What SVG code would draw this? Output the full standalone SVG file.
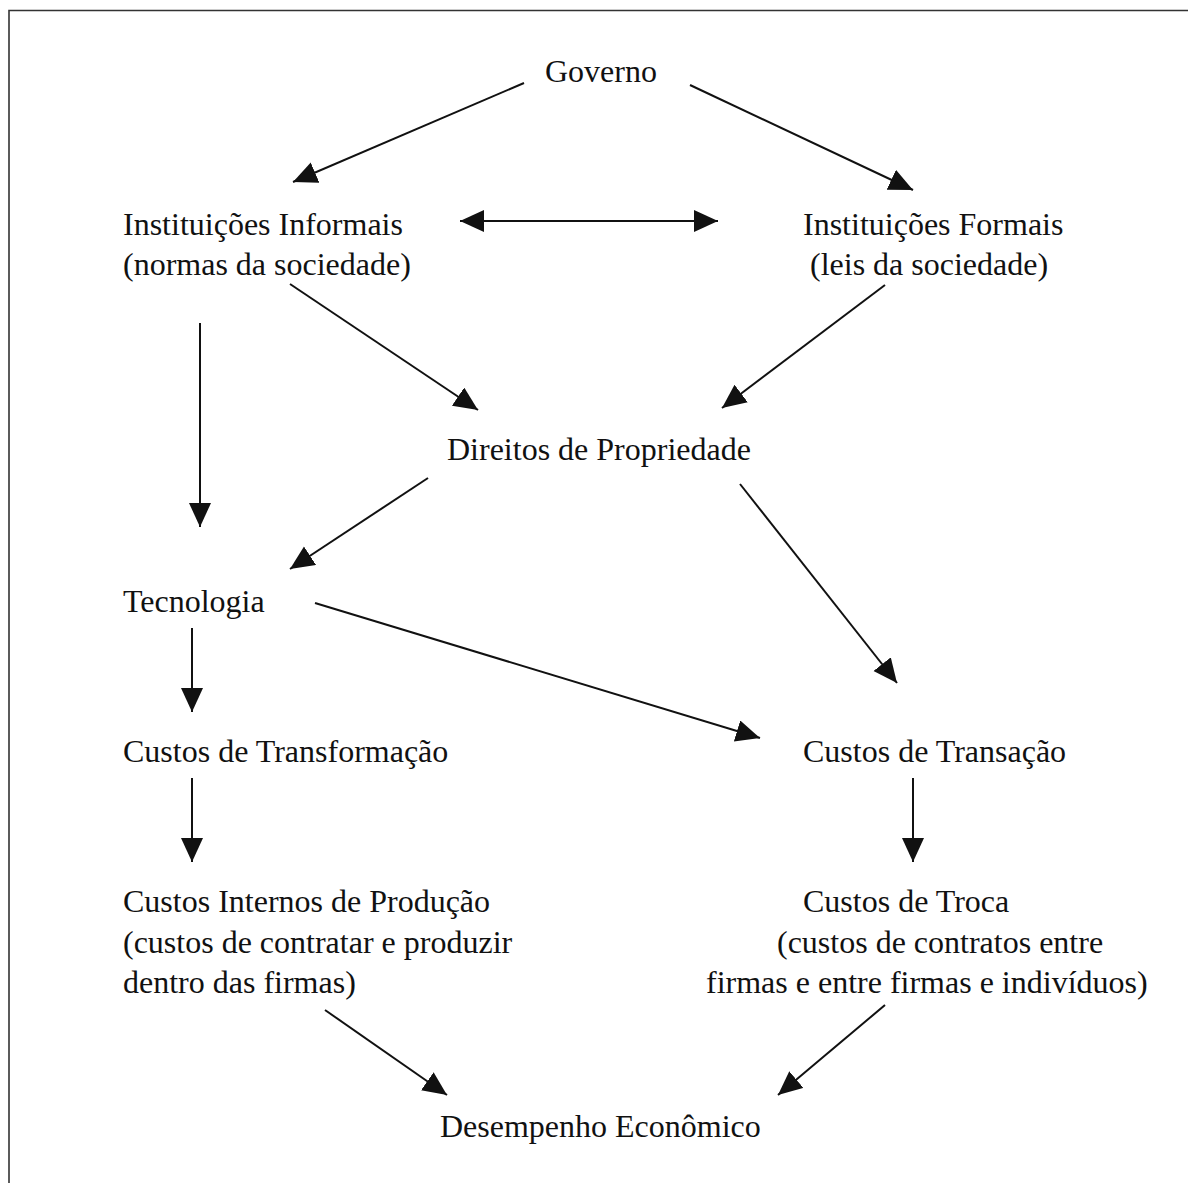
<svg xmlns="http://www.w3.org/2000/svg" width="1188" height="1183" viewBox="0 0 1188 1183">
<defs>
<style>
text{font-family:"Liberation Serif","Times New Roman",serif;font-size:32px;fill:#111}
.c{stroke:#111;stroke-width:2;fill:none}
.frame{stroke:#333;stroke-width:1.6;fill:none}
</style>
<marker id="ah" markerUnits="userSpaceOnUse" markerWidth="26" markerHeight="24" refX="24" refY="11" orient="auto-start-reverse" viewBox="0 0 26 24">
<path d="M0,0 L24,11 L0,22 z" fill="#111"/>
</marker>
</defs>
<rect width="1188" height="1183" fill="#fff"/>
<path class="frame" d="M9,1183 V10.5 H1188"/>
<g id="n-governo"><text x="545" y="82">Governo</text></g>
<g id="n-informais"><text x="123" y="235">Instituições Informais</text><text x="123" y="275">(normas da sociedade)</text></g>
<g id="n-formais"><text x="803" y="235">Instituições Formais</text><text x="810" y="275">(leis da sociedade)</text></g>
<g id="n-direitos"><text x="447" y="460">Direitos de Propriedade</text></g>
<g id="n-tecnologia"><text x="123" y="612">Tecnologia</text></g>
<g id="n-transformacao"><text x="123" y="762">Custos de Transformação</text></g>
<g id="n-transacao"><text x="803" y="762">Custos de Transação</text></g>
<g id="n-internos"><text x="123" y="912">Custos Internos de Produção</text><text x="123" y="953">(custos de contratar e produzir</text><text x="123" y="993">dentro das firmas)</text></g>
<g id="n-troca"><text x="803" y="912">Custos de Troca</text><text x="777" y="953">(custos de contratos entre</text><text x="706" y="993">firmas e entre firmas e indivíduos)</text></g>
<g id="n-desempenho"><text x="440" y="1137">Desempenho Econômico</text></g>
<g id="connectors">
<line class="c" x1="524" y1="83" x2="293" y2="182" marker-end="url(#ah)"/>
<line class="c" x1="690" y1="85" x2="913" y2="190" marker-end="url(#ah)"/>
<line class="c" x1="460" y1="221" x2="718" y2="221" marker-start="url(#ah)" marker-end="url(#ah)"/>
<line class="c" x1="290" y1="284" x2="478" y2="410" marker-end="url(#ah)"/>
<line class="c" x1="885" y1="285" x2="722" y2="408" marker-end="url(#ah)"/>
<line class="c" x1="200" y1="323" x2="200" y2="527" marker-end="url(#ah)"/>
<line class="c" x1="428" y1="478" x2="290" y2="569" marker-end="url(#ah)"/>
<line class="c" x1="740" y1="484" x2="897" y2="683" marker-end="url(#ah)"/>
<line class="c" x1="315" y1="603" x2="760" y2="738" marker-end="url(#ah)"/>
<line class="c" x1="192" y1="628" x2="192" y2="712" marker-end="url(#ah)"/>
<line class="c" x1="192" y1="778" x2="192" y2="862" marker-end="url(#ah)"/>
<line class="c" x1="913" y1="778" x2="913" y2="862" marker-end="url(#ah)"/>
<line class="c" x1="325" y1="1010" x2="447" y2="1095" marker-end="url(#ah)"/>
<line class="c" x1="885" y1="1005" x2="778" y2="1095" marker-end="url(#ah)"/>
</g>
</svg>
